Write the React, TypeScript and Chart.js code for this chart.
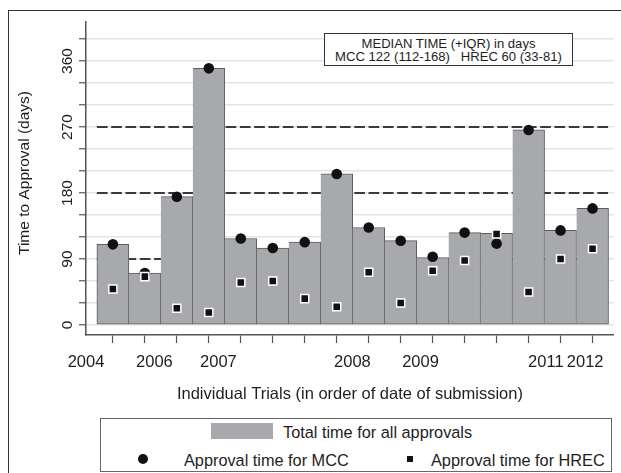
import React, { useEffect, useRef } from 'react';
import { Chart, registerables } from 'chart.js';

Chart.register(...registerables);

// ---- data ----
const trialIndex = [1, 2, 3, 4, 5, 6, 7, 8, 9, 10, 11, 12, 13, 14, 15, 16];
const totalDays = [110, 71, 175, 350, 118, 105, 113, 206, 133, 115, 92, 126, 125, 266, 129, 159];
const mccDays = [110, 71, 175, 350, 118, 105, 113, 206, 133, 115, 93, 126, 111, 266, 129, 159];
const hrecDays = [49, 66, 23, 17, 58, 60, 36, 25, 72, 30, 74, 88, 124, 45, 90, 104];
const yearLabels = ['2004', '2006', '2007', '2008', '2009', '2011', '2012'];
const yearPositions = [0.16, 2.3, 4.3, 8.49, 10.62, 14.54, 15.77];
const yGridValues = [0, 30, 60, 90, 120, 150, 180, 210, 240, 270, 300, 330, 360, 390];
const yLabelValues = [0, 90, 180, 270, 360];
const referenceLines = [90, 180, 270];

const medianTitle = 'MEDIAN TIME (+IQR) in days';
const medianText = 'MCC 122 (112-168)   HREC 60 (33-81)';
const xTitle = 'Individual Trials (in order of date of submission)';
const yTitle = 'Time to Approval (days)';
const legendBar = 'Total time for all approvals';
const legendMcc = 'Approval time for MCC';
const legendHrec = 'Approval time for HREC';

const FONT = '"Liberation Sans", Arial, Helvetica, sans-serif';
const TEXT = '#1e1e1e';
const BAR_FILL = '#a8a9ac';
const BAR_EDGE = '#5c5c5c';

const overlayPlugin = {
  id: 'overlayPlugin',
  beforeDatasetsDraw(chart: any) {
    const { ctx, scales } = chart;
    const x = scales.x;
    const y = scales.y;
    const x0 = x.getPixelForValue(trialIndex[0] - 0.5);
    const x1 = x.getPixelForValue(trialIndex[trialIndex.length - 1] + 0.5);
    ctx.save();
    ctx.strokeStyle = '#3a3a3a';
    ctx.lineWidth = 2;
    ctx.setLineDash([10.7, 3.6]);
    for (const v of referenceLines) {
      const py = Math.round(y.getPixelForValue(v));
      ctx.beginPath();
      ctx.moveTo(x0, py);
      ctx.lineTo(x1, py);
      ctx.stroke();
    }
    ctx.restore();
  },
  afterDraw(chart: any) {
    const { ctx, scales, chartArea } = chart;
    const y = scales.y;
    ctx.save();
    ctx.fillStyle = TEXT;
    ctx.textAlign = 'center';
    ctx.textBaseline = 'middle';
    ctx.font = `15.5px ${FONT}`;
    for (const v of yLabelValues) {
      const py = y.getPixelForValue(v);
      ctx.save();
      ctx.translate(67.5, py);
      ctx.rotate(-Math.PI / 2);
      ctx.fillText(String(v), 0, 0);
      ctx.restore();
    }
    ctx.save();
    ctx.translate(24.5, 173);
    ctx.rotate(-Math.PI / 2);
    ctx.fillText(yTitle, 0, 0);
    ctx.restore();
    ctx.font = `16.5px ${FONT}`;
    ctx.fillText(xTitle, (chartArea.left + chartArea.right) / 2, 394);
    ctx.restore();
  },
};

function ChartCanvas() {
  const ref = useRef<HTMLCanvasElement | null>(null);
  useEffect(() => {
    if (!ref.current) return;
    const xTickValues = [...trialIndex, ...yearPositions].sort((a, b) => a - b);
    const chart = new Chart(ref.current, {
      type: 'bar',
      data: {
        datasets: [
          {
            type: 'scatter',
            label: legendHrec,
            data: trialIndex.map((t, i) => ({ x: t, y: hrecDays[i] })),
            pointStyle: 'rect',
            pointRadius: 5.7,
            pointBackgroundColor: '#111',
            pointBorderColor: '#ffffff',
            pointBorderWidth: 1.5,
            showLine: false,
            order: 1,
          } as any,
          {
            type: 'scatter',
            label: legendMcc,
            data: trialIndex.map((t, i) => ({ x: t, y: mccDays[i] })),
            pointStyle: 'circle',
            pointRadius: 5.3,
            pointBackgroundColor: '#111',
            pointBorderWidth: 0,
            showLine: false,
            order: 2,
          } as any,
          {
            type: 'bar',
            label: legendBar,
            data: trialIndex.map((t, i) => ({ x: t, y: totalDays[i] })),
            backgroundColor: BAR_FILL,
            borderColor: BAR_EDGE,
            borderWidth: (c: any) => ({ top: 1, right: 1, bottom: 1, left: c.dataIndex === 0 ? 1 : 0 }),
            borderSkipped: false,
            barThickness: 'flex',
            barPercentage: 1,
            categoryPercentage: 1,
            order: 3,
          } as any,
        ],
      },
      options: {
        animation: false,
        responsive: false,
        events: [],
        layout: { padding: { top: 22, left: 0, right: 0, bottom: 0 } },
        plugins: {
          legend: { display: false },
          tooltip: { enabled: false },
          title: { display: false },
        },
        scales: {
          x: {
            type: 'linear',
            min: 0.16,
            max: 16.665,
            offset: false,
            bounds: 'data',
            afterBuildTicks: (s: any) => {
              s.ticks = xTickValues.map((v) => ({ value: v }));
            },
            afterFit: (s: any) => {
              s.height = 138;
            },
            ticks: {
              autoSkip: false,
              maxRotation: 0,
              minRotation: 0,
              padding: 10,
              color: TEXT,
              font: { size: 16.5, family: FONT },
              callback: (value: any) => {
                const i = yearPositions.indexOf(Number(value));
                return i >= 0 ? yearLabels[i] : '';
              },
            },
            grid: {
              drawOnChartArea: false,
              offset: false,
              tickLength: 8,
              tickWidth: 1.2,
              tickColor: (c: any) =>
                c.tick && trialIndex.includes(c.tick.value) ? '#555' : 'rgba(0,0,0,0)',
            },
            border: { display: true, color: '#555', width: 1.5 },
          } as any,
          y: {
            type: 'linear',
            min: -13.6,
            max: 413.2,
            bounds: 'data',
            afterBuildTicks: (s: any) => {
              s.ticks = yGridValues.map((v) => ({ value: v }));
            },
            afterFit: (s: any) => {
              s.width = 86;
            },
            ticks: { display: false },
            grid: {
              color: '#e4e4e4',
              lineWidth: 1.5,
              drawTicks: true,
              tickLength: 7,
              tickWidth: 1.2,
              tickColor: '#555',
            },
            border: { display: true, color: '#555', width: 1.5 },
          } as any,
        },
      },
      plugins: [overlayPlugin],
    } as any);
    return () => chart.destroy();
  }, []);
  return <canvas ref={ref} width={621} height={473} style={{ position: 'absolute', left: 0, top: 0, display: 'block' }} />;
}

const abs = (extra: React.CSSProperties): React.CSSProperties => ({ position: 'absolute', ...extra });
const textStyle = (size: number, lh: number): React.CSSProperties => ({
  fontFamily: FONT,
  fontSize: size,
  lineHeight: `${lh}px`,
  color: TEXT,
  whiteSpace: 'pre',
});

export default function App() {
  return (
    <div style={{ position: 'absolute', left: 0, top: 0, width: 621, height: 473, overflow: 'hidden', background: '#fff' }}>
      <div style={abs({ left: 8, top: 10, width: 700, height: 600, borderLeft: '1.3px solid #333', borderTop: '1.3px solid #333' })} />
      <ChartCanvas />
      {/* median annotation box */}
      <div style={abs({ left: 324, top: 33, width: 249, height: 33, boxSizing: 'border-box', border: '1px solid #333', background: '#fff' })} />
      <div style={{ ...abs({ left: 324, top: 36, width: 249, textAlign: 'center' }), ...textStyle(13.1, 15) }}>{medianTitle}</div>
      <div style={{ ...abs({ left: 324, top: 49.3, width: 249, textAlign: 'center' }), ...textStyle(13.1, 15) }}>{medianText}</div>
      {/* legend */}
      <div style={abs({ left: 100, top: 418, width: 512, height: 54, boxSizing: 'border-box', border: '1px solid #666', background: '#fff' })} />
      <div style={abs({ left: 211, top: 423, width: 62, height: 16, background: BAR_FILL })} />
      <div style={{ ...abs({ left: 283, top: 421.5 }), ...textStyle(16.3, 20) }}>{legendBar}</div>
      <div style={abs({ left: 137.5, top: 453.8, width: 10.5, height: 10.5, borderRadius: '50%', background: '#111' })} />
      <div style={{ ...abs({ left: 184, top: 450.2 }), ...textStyle(16.3, 20) }}>{legendMcc}</div>
      <div style={abs({ left: 406.8, top: 455.8, width: 6.5, height: 6.5, background: '#111' })} />
      <div style={{ ...abs({ left: 431, top: 450.2 }), ...textStyle(16.3, 20) }}>{legendHrec}</div>
    </div>
  );
}
